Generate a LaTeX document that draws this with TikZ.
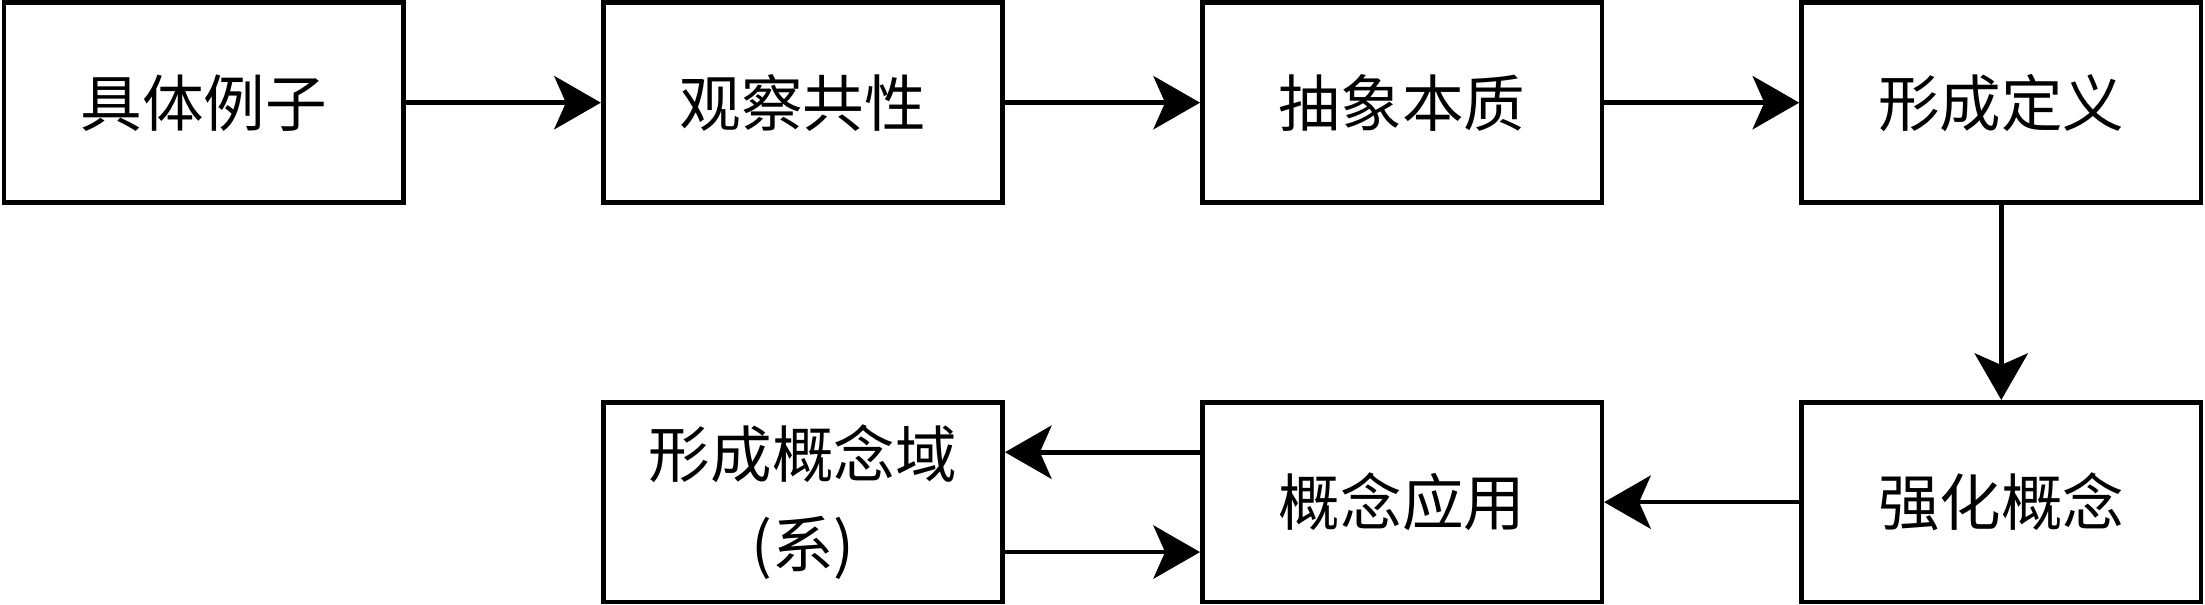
\documentclass[tikz,border=0pt]{standalone}
\usepackage{fontspec}
\setmainfont{Noto Sans CJK SC}
\usetikzlibrary{arrows.meta}
\begin{document}
\begin{tikzpicture}[x=1pt,y=1pt,
  box/.style={draw=black, line width=1.4pt, fill=white, minimum width=120pt, minimum height=60pt, inner sep=0pt, align=center, font=\fontsize{18.5}{27}\selectfont},
  conn/.style={line width=1.4pt, -{Stealth[length=14pt,width=16pt,inset=3.5pt]}}]
\useasboundingbox (-1.2,-0.85) rectangle (661.2,180.85);
\node[box] (a) at (60,150) {具体例子};
\node[box] (b) at (240,150) {观察共性};
\node[box] (c) at (420,150) {抽象本质};
\node[box] (d) at (600,150) {形成定义};
\node[box] (e) at (600,30) {强化概念};
\node[box] (f) at (420,30) {概念应用};
\node[box] (g) at (240,30) {形成概念域\\(系)};
\draw[conn] (a) -- (b);
\draw[conn] (b) -- (c);
\draw[conn] (c) -- (d);
\draw[conn] (d) -- (e);
\draw[conn] (e) -- (f);
\draw[conn] ([yshift=15pt]f.west) -- ([yshift=15pt]g.east);
\draw[conn] ([yshift=-15pt]g.east) -- ([yshift=-15pt]f.west);
\end{tikzpicture}
\end{document}
